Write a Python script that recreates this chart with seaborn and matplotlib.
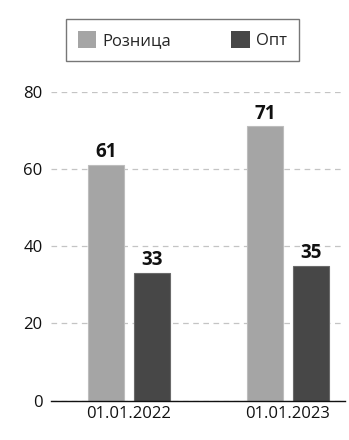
import matplotlib
matplotlib.use("Agg")
import matplotlib.pyplot as plt
import seaborn as sns
import pandas as pd
from matplotlib.patches import Patch

dates = ["01.01.2022", "01.01.2023"]
series = ["Розница", "Опт"]
retail = [61, 71]
wholesale = [33, 35]
y_ticks = [0, 20, 40, 60, 80]

colors = {"Розница": "#a5a5a5", "Опт": "#474747"}
edges = {"Розница": "#bdbdbd", "Опт": "#6a6a6a"}

df = pd.DataFrame({
    "date": dates * 2,
    "segment": [series[0]] * len(dates) + [series[1]] * len(dates),
    "value": retail + wholesale,
})

sns.set_style("white")
plt.rcParams["font.family"] = ["Open Sans", "DejaVu Sans"]

fig = plt.figure(figsize=(3.49, 4.40), dpi=100)
ax = fig.add_axes([51 / 349, 1 - 400.7 / 440, (345 - 51) / 349, (400.7 - 91.7) / 440])

sns.barplot(data=df, x="date", y="value", hue="segment", order=dates,
            hue_order=series, palette=colors, width=0.574, gap=0.21,
            saturation=1, legend=False, ax=ax)

for container, name in zip(ax.containers, series):
    for bar in container:
        bar.set_edgecolor(edges[name])
        bar.set_linewidth(0.8)
    ax.bar_label(container, labels=[f"{v:.0f}" for v in container.datavalues],
                 padding=2, fontsize=13.5, fontweight="bold", color="#111111")

ax.set_ylim(0, 80)
ax.set_xlim(-0.49, 1.358)
ax.set_yticks(y_ticks)
ax.set_yticklabels([str(t) for t in y_ticks])
ax.grid(axis="y", color="#c4c4c4", linestyle=(0, (4.5, 3.6)), linewidth=0.9)
ax.set_axisbelow(True)
for side in ("left", "right", "top"):
    ax.spines[side].set_visible(False)
ax.spines["bottom"].set_color("#111111")
ax.spines["bottom"].set_linewidth(1.0)
ax.tick_params(axis="both", length=0, labelsize=12, colors="#111111")
ax.tick_params(axis="x", pad=4)
ax.tick_params(axis="y", pad=6)
ax.set_xlabel("")
ax.set_ylabel("")

handles = [Patch(facecolor=colors[s], edgecolor="none", label=s) for s in series]
leg = fig.legend(handles=handles, loc="center", ncol=2,
                 bbox_to_anchor=(182.5 / 349, 1 - 40 / 440),
                 frameon=True, fancybox=False, fontsize=12,
                 handlelength=1.1, handleheight=1.2, handletextpad=0.4,
                 columnspacing=3.6, borderpad=0.72, borderaxespad=0)
leg.get_frame().set_edgecolor("#555555")
leg.get_frame().set_linewidth(1.0)

fig.savefig("out.png", dpi=100)
